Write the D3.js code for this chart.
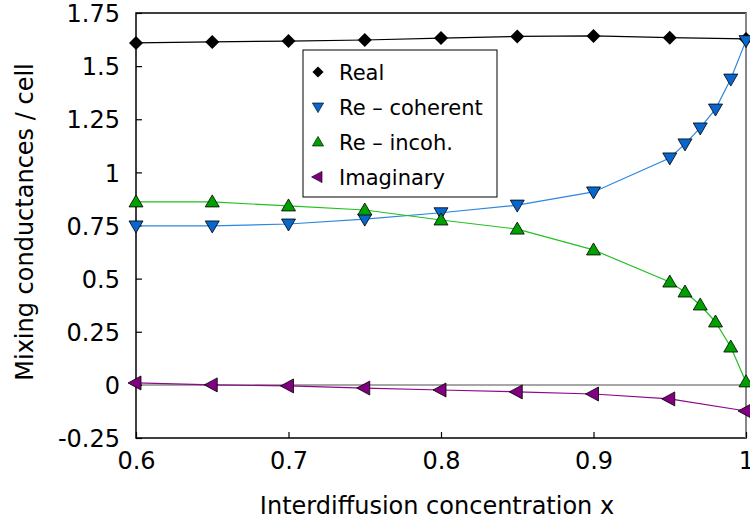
<!DOCTYPE html>
<html>
<head>
<meta charset="utf-8">
<script src="https://cdn.jsdelivr.net/npm/d3@7/dist/d3.min.js"></script>
<style>
  body { margin: 0; background: #fff; }
  text { font-family: "DejaVu Sans", sans-serif; fill: #000; }
</style>
</head>
<body>
<div id="chart"></div>
<script>
// x positions of the points
const xsFull = [0.6, 0.65, 0.7, 0.75, 0.8, 0.85, 0.9, 0.95, 0.96, 0.97, 0.98, 0.99, 1.0];
const xsCoarse = [0.6, 0.65, 0.7, 0.75, 0.8, 0.85, 0.9, 0.95, 1.0];

const realVals = [1.609, 1.614, 1.618, 1.623, 1.632, 1.640, 1.642, 1.634, 1.628];
const coherentVals = [0.748, 0.748, 0.757, 0.780, 0.810, 0.846, 0.908, 1.068, 1.134, 1.209, 1.298, 1.439, 1.620];
const incohVals = [0.861, 0.861, 0.842, 0.823, 0.776, 0.733, 0.635, 0.484, 0.437, 0.376, 0.296, 0.178, 0.014];
const imagVals = [0.009, 0.0, -0.005, -0.015, -0.024, -0.033, -0.043, -0.066, -0.123];

const xTicks = [0.6, 0.7, 0.8, 0.9, 1.0];
const xTickLabels = ['0.6', '0.7', '0.8', '0.9', '1'];
const yTicks = [-0.25, 0, 0.25, 0.5, 0.75, 1, 1.25, 1.5, 1.75];
const yTickLabels = ['-0.25', '0', '0.25', '0.5', '0.75', '1', '1.25', '1.5', '1.75'];

const width = 750;
const height = 523;
const margin = {left: 136, right: 4, top: 13, bottom: 85};

const svg = d3.select('#chart')
  .append('svg')
  .attr('width', width)
  .attr('height', height);

const x = d3.scaleLinear().domain([0.6, 1.0]).range([margin.left, width - margin.right]);
const y = d3.scaleLinear().domain([-0.25, 1.75]).range([height - margin.bottom, margin.top]);

// zero line (gray)
svg.append('line')
  .attr('x1', x(0.6)).attr('x2', x(1.0))
  .attr('y1', y(0)).attr('y2', y(0))
  .attr('stroke', '#888').attr('stroke-width', 1.5);

// frame
svg.append('rect')
  .attr('x', x(0.6)).attr('y', y(1.75))
  .attr('width', x(1.0) - x(0.6)).attr('height', y(-0.25) - y(1.75))
  .attr('fill', 'none').attr('stroke', '#000').attr('stroke-width', 1.5);

// x = 1 line (gray)
svg.append('line')
  .attr('x1', x(1.0)).attr('x2', x(1.0))
  .attr('y1', y(1.75)).attr('y2', y(-0.25))
  .attr('stroke', '#888').attr('stroke-width', 2);

// axes, ticks pointing inward
const yAxis = svg.append('g')
  .attr('transform', `translate(${x(0.6)},0)`)
  .call(d3.axisLeft(y).tickValues(yTicks).tickSize(-6).tickPadding(16)
    .tickFormat((d, i) => yTickLabels[i]));
const xAxis = svg.append('g')
  .attr('transform', `translate(0,${y(-0.25)})`)
  .call(d3.axisBottom(x).tickValues(xTicks).tickSize(-6).tickPadding(14)
    .tickFormat((d, i) => xTickLabels[i]));

[yAxis, xAxis].forEach(a => {
  a.select('.domain').remove();
  a.selectAll('.tick line').attr('stroke', '#000').attr('stroke-width', 1.2);
  a.selectAll('.tick text').style('font-size', '24px').style('font-family', '"DejaVu Sans", sans-serif');
});
yAxis.selectAll('.tick text').attr('dy', '0.36em');
xAxis.selectAll('.tick text').attr('dy', '0.71em');

// axis titles
svg.append('text')
  .attr('transform', 'translate(33,222) rotate(-90)')
  .attr('text-anchor', 'middle')
  .style('font-size', '24px')
  .text('Mixing conductances / cell');

svg.append('text')
  .attr('x', 437)
  .attr('y', 514)
  .attr('text-anchor', 'middle')
  .style('font-size', '24px')
  .text('Interdiffusion concentration x');

const series = [
  {name: 'Real', xs: xsCoarse, vals: realVals, line: '#000', fill: '#000', sym: 'diamond'},
  {name: 'Re \u2013 coherent', xs: xsFull, vals: coherentVals, line: '#2e86e0', fill: '#0866cc', sym: 'down'},
  {name: 'Re \u2013 incoh.', xs: xsFull, vals: incohVals, line: '#22c022', fill: '#00a000', sym: 'up'},
  {name: 'Imaginary', xs: xsCoarse, vals: imagVals, line: '#8a0a8a', fill: '#800080', sym: 'left'}
];

function markerPath(sym) {
  if (sym === 'diamond') return 'M0,-7L7,0L0,7L-7,0Z';
  if (sym === 'down') return 'M-7,-5L7,-5L0,7Z';
  if (sym === 'up') return 'M-7,5L7,5L0,-7Z';
  return 'M-8,0L5,-7L5,7Z';
}

const line = d3.line().x(d => x(d[0])).y(d => y(d[1]));

series.forEach(s => {
  const pts = s.xs.map((v, i) => [v, s.vals[i]]);
  svg.append('path')
    .datum(pts)
    .attr('d', line)
    .attr('fill', 'none')
    .attr('stroke', s.line)
    .attr('stroke-width', 1.2);
  svg.append('g').selectAll('path')
    .data(pts)
    .join('path')
    .attr('transform', d => `translate(${x(d[0])},${y(d[1])})`)
    .attr('d', markerPath(s.sym))
    .attr('fill', s.fill)
    .attr('stroke', '#000')
    .attr('stroke-width', s.sym === 'diamond' ? 0 : 0.8);
});

// legend
const lg = svg.append('g').attr('transform', 'translate(303,50)');
lg.append('rect')
  .attr('width', 194).attr('height', 147)
  .attr('fill', '#fff').attr('stroke', '#000').attr('stroke-width', 1);

series.forEach((s, i) => {
  const cy = 22 + i * 35;
  lg.append('path')
    .attr('transform', `translate(15,${cy}) scale(0.8)`)
    .attr('d', markerPath(s.sym))
    .attr('fill', s.fill)
    .attr('stroke', '#000')
    .attr('stroke-width', s.sym === 'diamond' ? 0 : 0.8);
  lg.append('text')
    .attr('x', 36)
    .attr('y', cy)
    .attr('dy', '0.36em')
    .style('font-size', '21px')
    .text(s.name);
});
</script>
</body>
</html>
